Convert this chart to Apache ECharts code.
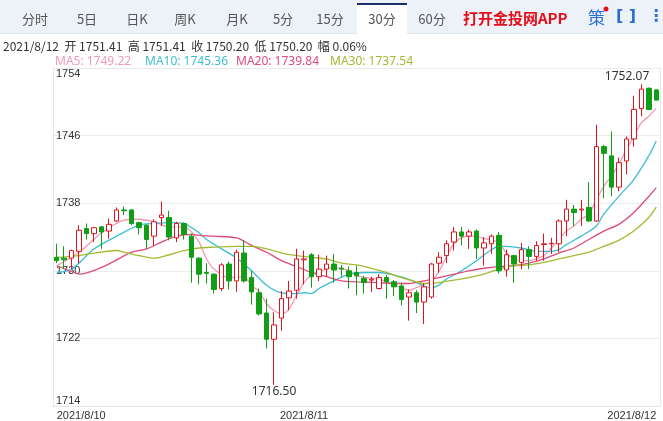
<!DOCTYPE html>
<html><head><meta charset="utf-8">
<script src="https://cdn.jsdelivr.net/npm/echarts@6/dist/echarts.min.js"></script>
<style>html,body{margin:0;padding:0;background:#fff}#c{width:663px;height:421px}</style>
</head><body><div id="c"></div>
<script>
// OHLC: [open, close, low, high]
const ohlc = [
[1731.6,1731.2,1730.9,1733.2],[1731.5,1731.3,1730.2,1732.9],[1731.5,1732.4,1730.2,1732.5],[1732.3,1734.8,1730.9,1735.4],
[1735.0,1734.4,1733.7,1735.6],[1734.4,1735.1,1733.4,1735.2],[1735.2,1734.6,1732.6,1735.3],[1734.7,1735.5,1733.8,1736.2],
[1735.9,1737.2,1735.8,1737.5],[1737.2,1737.1,1736.6,1737.6],[1737.2,1735.6,1735.4,1737.3],[1735.7,1735.1,1734.3,1735.8],
[1735.4,1733.7,1732.6,1735.5],[1734.1,1735.8,1733.0,1736.1],[1736.3,1736.6,1735.3,1738.2],[1736.3,1734.0,1733.6,1737.1],
[1733.9,1735.6,1733.4,1735.8],[1735.6,1734.3,1733.7,1735.7],[1734.1,1731.6,1728.6,1734.4],[1731.5,1729.6,1728.4,1731.6],
[1729.8,1729.7,1728.5,1730.9],[1729.6,1727.8,1727.3,1729.7],[1727.9,1730.7,1727.6,1730.9],[1730.8,1728.8,1727.8,1731.1],
[1728.8,1732.2,1727.5,1732.5],[1732.1,1728.8,1728.6,1733.6],[1729.2,1727.5,1726.0,1730.0],[1727.4,1724.9,1724.7,1727.9],
[1725.0,1721.9,1720.8,1726.7],[1721.9,1723.6,1716.5,1725.1],[1724.4,1726.7,1722.9,1727.6],[1726.8,1727.6,1725.3,1728.8],
[1727.7,1731.4,1726.7,1732.6],[1731.3,1731.4,1728.4,1732.4],[1731.9,1729.3,1728.0,1732.1],[1729.3,1730.2,1728.8,1731.9],
[1730.2,1730.8,1729.3,1731.8],[1730.8,1730.1,1728.6,1732.0],[1730.3,1730.2,1729.3,1730.7],[1730.0,1729.3,1727.9,1730.5],
[1729.8,1729.4,1727.1,1730.6],[1729.1,1728.6,1727.3,1729.4],[1728.9,1729.0,1727.5,1729.3],[1727.9,1729.2,1727.8,1729.6],
[1729.2,1728.7,1726.7,1729.5],[1728.7,1728.1,1727.0,1728.9],[1728.2,1726.6,1725.9,1728.6],[1726.9,1727.4,1724.1,1727.8],
[1727.4,1726.3,1725.0,1727.7],[1726.3,1728.1,1723.7,1728.5],[1726.9,1730.8,1726.7,1730.9],[1730.9,1731.6,1729.8,1732.2],
[1731.8,1733.2,1730.9,1733.6],[1733.4,1734.6,1732.4,1735.2],[1734.6,1734.1,1733.0,1735.2],[1734.1,1734.6,1732.6,1734.9],
[1734.7,1732.7,1731.4,1734.9],[1732.7,1733.3,1730.6,1734.0],[1733.2,1734.1,1732.0,1734.3],[1734.2,1730.0,1729.7,1734.6],
[1730.1,1731.9,1729.3,1732.5],[1731.8,1730.8,1728.6,1731.9],[1731.0,1732.5,1730.2,1733.3],[1732.5,1731.7,1730.2,1732.9],
[1731.7,1733.0,1731.2,1733.5],[1733.1,1733.2,1731.2,1734.4],[1733.2,1733.25,1732.0,1733.9],[1733.2,1735.9,1732.2,1736.1],
[1735.9,1737.3,1734.1,1738.4],[1737.3,1736.9,1735.3,1737.8],[1737.2,1737.3,1735.3,1738.4],[1737.5,1735.9,1735.8,1740.5],
[1735.9,1744.7,1735.8,1747.3],[1744.7,1743.9,1738.6,1744.9],[1743.6,1739.9,1738.8,1746.5],[1739.9,1742.8,1739.4,1743.4],
[1743.0,1745.6,1741.4,1745.9],[1745.6,1749.1,1744.7,1750.7],[1749.2,1751.5,1748.3,1752.07],[1751.6,1749.1,1749.0,1751.7],
[1751.41,1750.20,1750.20,1751.41]
];
const dayLabels = ['2021/8/10','2021/8/11','2021/8/12'];
const dayStart = [0,33,66];
// moving averages: [candle number (1-based), value]
const ma5 = [[1,1730.6],[4,1732.2],[7,1734.5],[10,1736.0],[12,1736.1],[14,1735.8],[16,1735.2],[18,1735.2],[19,1734.6],[20,1733.4],[21,1731.4],[22,1730.2],[24,1729.2],[26,1729.3],[27,1728.2],[28,1727.6],[29,1726.1],[30,1725.3],[31,1724.9],[32,1725.5],[33,1727.1],[34,1728.6],[35,1729.5],[36,1729.9],[38,1730.4],[40,1730.0],[41,1729.4],[44,1729.0],[46,1728.4],[48,1727.7],[49,1728.0],[50,1728.4],[51,1728.8],[52,1729.9],[53,1731.7],[54,1733.2],[55,1733.9],[56,1734.1],[57,1734.1],[58,1733.8],[59,1733.7],[60,1733.3],[61,1732.1],[62,1731.4],[63,1731.2],[64,1731.2],[65,1731.4],[66,1731.8],[67,1732.7],[68,1733.7],[69,1734.7],[70,1735.3],[71,1736.1],[72,1736.7],[73,1738.4],[74,1740.0],[75,1741.2],[76,1742.6],[77,1744.3],[78,1745.9],[79,1747.5],[80,1748.3],[81,1749.22]];
const ma10 = [[1,1729.8],[3,1730.2],[6,1732.6],[9,1734.1],[12,1735.4],[14,1735.6],[16,1735.7],[18,1735.6],[19,1735.1],[20,1734.5],[21,1733.7],[23,1732.6],[25,1731.5],[27,1730.0],[29,1728.3],[31,1727.4],[33,1727.3],[34,1727.4],[35,1727.3],[36,1727.9],[38,1728.8],[40,1729.6],[42,1729.8],[44,1729.8],[46,1729.5],[48,1729.0],[50,1728.2],[51,1728.0],[52,1728.3],[53,1729.0],[55,1730.0],[57,1731.2],[59,1732.5],[60,1732.9],[61,1732.9],[63,1732.7],[65,1732.3],[67,1732.3],[68,1732.5],[69,1733.1],[71,1734.1],[73,1735.3],[74,1736.7],[76,1738.8],[78,1740.8],[80,1743.6],[81,1745.36]];
const ma20 = [[1,1730.6],[3,1729.9],[4,1729.6],[7,1730.4],[9,1731.3],[11,1732.2],[13,1732.6],[15,1733.4],[17,1734.1],[19,1734.3],[20,1734.2],[22,1734.1],[25,1733.9],[26,1733.5],[27,1733.0],[29,1732.2],[31,1731.2],[33,1730.5],[35,1729.8],[37,1729.3],[39,1728.8],[41,1728.7],[44,1728.6],[46,1728.5],[48,1728.5],[50,1728.8],[52,1729.2],[54,1729.6],[56,1730.0],[58,1730.3],[60,1730.5],[62,1730.6],[64,1730.9],[66,1731.4],[68,1732.1],[70,1732.7],[72,1733.7],[74,1734.7],[76,1735.5],[78,1736.9],[80,1738.8],[81,1739.84]];
const ma30 = [[1,1731.6],[3,1731.7],[6,1732.1],[9,1732.4],[10,1732.2],[12,1731.8],[14,1731.5],[16,1731.9],[18,1732.4],[20,1732.7],[22,1732.8],[25,1732.9],[27,1732.9],[29,1732.6],[31,1732.1],[33,1731.8],[35,1731.6],[37,1731.4],[39,1730.9],[41,1730.7],[43,1730.3],[45,1729.8],[47,1729.2],[49,1728.7],[50,1728.5],[52,1728.6],[54,1728.9],[56,1729.2],[58,1729.6],[60,1730.2],[62,1730.6],[64,1730.7],[66,1731.0],[68,1731.4],[70,1731.8],[72,1732.2],[74,1732.9],[76,1733.6],[78,1734.7],[80,1736.3],[81,1737.54]];

const n = ohlc.length;
const cats = ohlc.map((d,i)=>{let k=0;for(let j=0;j<dayStart.length;j++) if(i>=dayStart[j]) k=j; return dayLabels[k]+'#'+i;});
function toLine(arr){return arr.map(p=>[cats[p[0]-1],p[1]]);}
const C = {ma5:'#f19ab5',ma10:'#3dbdd3',ma20:'#df4a7a',ma30:'#a4ba33'};
const chart = echarts.init(document.getElementById('c'));
const labelIdx = [0,33,n-1];
function line(name,data,color){return {name,type:'line',data:toLine(data),smooth:0.3,connectNulls:true,showSymbol:false,symbol:'none',lineStyle:{width:1.3,color},z:3,silent:true};}
const tabs = [['分时',35],['5日',87],['日K',137],['周K',185],['月K',237],['5分',283],['15分',330],['30分',382],['60分',432]];
const g = [
 {type:'rect',shape:{x:0,y:0,width:663,height:33},style:{fill:'#edf2f8'}},
 {type:'rect',shape:{x:0,y:33,width:663,height:1},style:{fill:'#dde4ee'}},
 {type:'rect',shape:{x:357,y:4,width:50,height:30},style:{fill:'#fff'}},
 {type:'rect',shape:{x:357,y:3,width:50,height:2},style:{fill:'#1d2f6b'}},
];
tabs.forEach(t=>g.push({type:'text',x:t[1],y:19,style:{text:t[0],fill:'#555',font:'13px "Noto Sans CJK SC"',align:'center',verticalAlign:'middle'}}));
g.push({type:'text',x:463,y:18,style:{text:'打开金投网APP',fill:'#e3101c',font:'bold 15px "Noto Sans CJK SC"',verticalAlign:'middle'}});
g.push({type:'text',x:588,y:18,style:{text:'策',fill:'#2b6fd6',font:'17px "Noto Sans CJK SC"',verticalAlign:'middle'}});
g.push({type:'circle',shape:{cx:606,cy:9,r:2.5},style:{fill:'#e3101c'}});
g.push({type:'text',x:626,y:17,style:{text:'[ ]',fill:'#2b6fd6',font:'bold 16px "DejaVu Sans"',align:'center',verticalAlign:'middle'}});
g.push({type:'text',x:656,y:17,style:{text:'⋮',fill:'#2b6fd6',font:'bold 16px "DejaVu Sans"',align:'center',verticalAlign:'middle'}});
g.push({type:'text',x:3,y:46,style:{text:'2021/8/12  开 1751.41  高 1751.41  收 1750.20  低 1750.20  幅 0.06%',fill:'#333',font:'12px "Noto Sans CJK SC"',verticalAlign:'middle'}});
[['MA5: 1749.22',55,C.ma5],['MA10: 1745.36',145,C.ma10],['MA20: 1739.84',236,C.ma20],['MA30: 1737.54',330,C.ma30]].forEach(m=>
 g.push({type:'text',x:m[1],y:62,style:{text:m[0],fill:m[2],font:'12px "Noto Sans"',verticalAlign:'middle'}}));
chart.setOption({
 animation:false,
 grid:{left:53,right:3,top:68,bottom:14},
 xAxis:{type:'category',data:cats,boundaryGap:true,
   axisLine:{show:true,lineStyle:{color:'#e6e6e6'}},axisTick:{show:false},
   splitLine:{show:true,interval:(i)=>i===33,lineStyle:{color:'#e8e8e8'}},
   axisLabel:{interval:(i)=>labelIdx.includes(i),formatter:v=>v.split('#')[0],color:'#333',fontSize:11,margin:4,alignMinLabel:'left',alignMaxLabel:'right',showMinLabel:true,showMaxLabel:true}},
 yAxis:{type:'value',min:1714,max:1754,interval:8,position:'left',
   axisLine:{show:false},axisTick:{show:false},
   splitLine:{lineStyle:{color:'#ebebeb'}},
   axisLabel:{inside:true,color:'#333',fontSize:11,verticalAlign:'middle',verticalAlignMinLabel:'bottom',verticalAlignMaxLabel:'top',margin:3,showMaxLabel:true,formatter:v=>String(v)}},
 series:[
  {type:'candlestick',data:ohlc,barWidth:5,z:4,
   itemStyle:{color:'#ffffff',borderColor:'#e0141e',color0:'#0f9e16',borderColor0:'#0f9e16',borderWidth:1}},
  line('MA5',ma5,C.ma5),line('MA10',ma10,C.ma10),line('MA20',ma20,C.ma20),line('MA30',ma30,C.ma30)
 ],
 graphic:g
});
const hiI = 78, loI = 29;
const ph = chart.convertToPixel({gridIndex:0},[cats[hiI],ohlc[hiI][3]]);
const pl = chart.convertToPixel({gridIndex:0},[cats[loI],ohlc[loI][2]]);
chart.setOption({graphic:g.concat([
 {type:'text',x:ph[0]+8,y:ph[1]-2,style:{text:ohlc[hiI][3].toFixed(2),fill:'#333',font:'12px "Noto Sans"',align:'right',verticalAlign:'bottom'}},
 {type:'text',x:pl[0],y:pl[1]+1,style:{text:ohlc[loI][2].toFixed(2),fill:'#333',font:'12px "Noto Sans"',align:'center',verticalAlign:'top'}}
])});
</script></body></html>
